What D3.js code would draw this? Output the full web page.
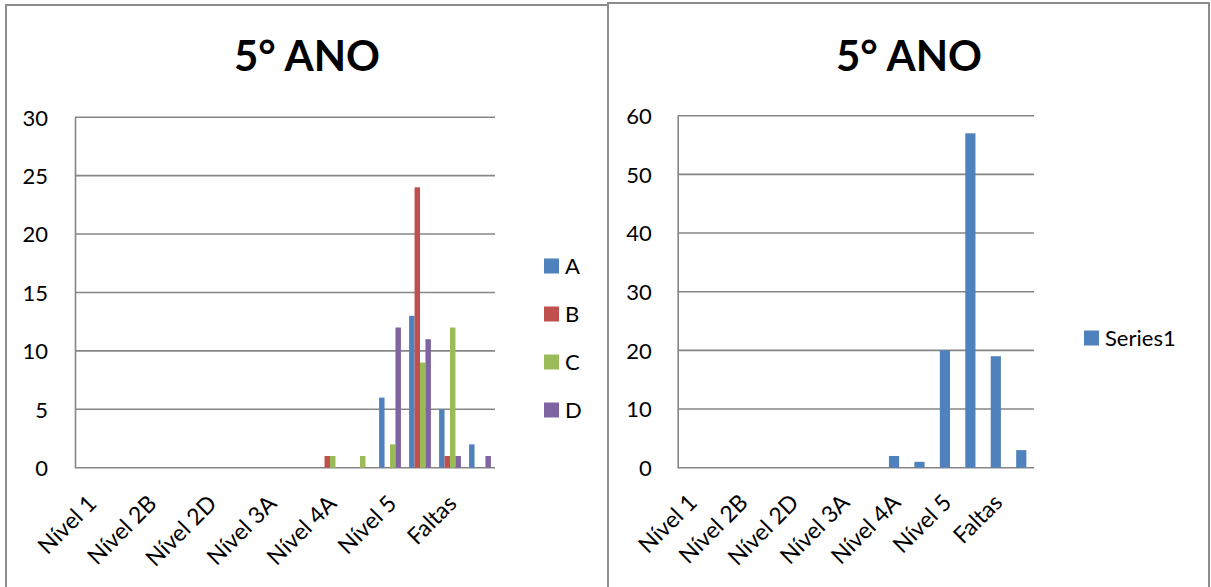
<!DOCTYPE html>
<html><head><meta charset="utf-8">
<script src="https://cdn.jsdelivr.net/npm/d3@7"></script>
<style>
html,body{margin:0;padding:0;background:#fff;}
text{font-family:Lato,"Open Sans",sans-serif;fill:#000;}
</style></head>
<body><svg id="c" width="1211" height="587"></svg>
<script>
// ---- data ----
const categories = ["Nível 1","Nível 2A","Nível 2B","Nível 2C","Nível 2D","Nível 3","Nível 3A","Nível 3B","Nível 4A","Nível 4B","Nível 5","Nível 5B","Faltas","Transferidos"];
const seriesNames = ["A","B","C","D"];
const valuesA = [0,0,0,0,0,0,0,0,0,0,6,13,5,2];
const valuesB = [0,0,0,0,0,0,0,0,1,0,0,24,1,0];
const valuesC = [0,0,0,0,0,0,0,0,1,1,2,9,12,0];
const valuesD = [0,0,0,0,0,0,0,0,0,0,12,11,1,1];
const totalName = "Series1";
const totals = [0,0,0,0,0,0,0,0,2,1,20,57,19,3];
const leftTicks = [0,5,10,15,20,25,30];
const rightTicks = [0,10,20,30,40,50,60];
const titleText = "5° ANO";
const colors = ["#4F81BD","#C0504D","#9BBB59","#8064A2"];

const svg = d3.select("#c");
const gridColor = "#868686";

// chart frames
svg.append("rect").attr("x",6).attr("y",5).attr("width",602).attr("height",600)
  .attr("fill","#fff").attr("stroke","#8c8c8c").attr("stroke-width",2);
svg.append("rect").attr("x",608).attr("y",3).attr("width",601).attr("height",600)
  .attr("fill","#fff").attr("stroke","#8c8c8c").attr("stroke-width",2);

function drawChart(opt){
  const g = svg.append("g");
  const x = d3.scaleBand().domain(categories).range([opt.x0,opt.x1]).paddingInner(0).paddingOuter(0);
  const y = d3.scaleLinear().domain([0,opt.ticks[opt.ticks.length-1]]).range([opt.yb,opt.yt]);
  // title
  g.append("text").attr("x",opt.tx).attr("y",71).attr("text-anchor","middle")
    .style("font-size","42px").style("font-weight","bold").text(titleText);
  // gridlines
  g.selectAll(".grid").data(opt.ticks).join("line")
    .attr("x1",opt.x0).attr("x2",opt.x1).attr("y1",d=>y(d)).attr("y2",d=>y(d))
    .attr("stroke",gridColor).attr("stroke-width",1.6);
  // y axis
  const ya = g.append("g").attr("transform",`translate(${opt.x0},0)`)
    .call(d3.axisLeft(y).tickValues(opt.ticks).tickSize(0).tickPadding(opt.tickPad));
  ya.select(".domain").attr("stroke",gridColor).attr("stroke-width",1.6);
  ya.selectAll("text").style("font-size","22px").style("font-family","Lato,'Open Sans',sans-serif").attr("dy","0.36em");
  // bars
  const n = opt.series.length;
  const bw = x.bandwidth()/(n+1.5);
  const off = (x.bandwidth()-n*bw)/2;
  opt.series.forEach((vals,si)=>{
    g.selectAll(null).data(vals.map((v,i)=>({c:categories[i],v}))).join("rect")
      .filter(d=>d.v>0)
      .attr("x",d=>x(d.c)+off+si*bw).attr("width",bw)
      .attr("y",d=>y(d.v)).attr("height",d=>y(0)-y(d.v))
      .attr("fill",opt.colors[si]);
  });
  // x labels (every other category)
  const xa = g.append("g");
  xa.selectAll("text").data(categories.filter((c,i)=>i%2===0)).join("text")
    .attr("text-anchor","end")
    .attr("transform",d=>`translate(${x(d)+x.bandwidth()/2+opt.lx},${opt.ly}) rotate(-45)`)
    .style("font-size","23px").text(d=>d);
  // legend
  const lg = g.append("g");
  opt.legend.forEach((name,i)=>{
    const cy = opt.legY[i];
    lg.append("rect").attr("x",opt.legX).attr("y",cy-7.5).attr("width",15).attr("height",15).attr("fill",opt.colors[i]);
    lg.append("text").attr("x",opt.legX+21).attr("y",cy).attr("dy","0.36em").style("font-size","22px").text(name);
  });
}

drawChart({x0:75,x1:495,yb:467.7,yt:117.2,ticks:leftTicks,tx:307,tickPad:27,lx:8,ly:505,
  series:[valuesA,valuesB,valuesC,valuesD],colors:colors,legend:seriesNames,
  legX:544,legY:[266,314,362,410]});
drawChart({x0:677.7,x1:1034,yb:467.7,yt:115.7,ticks:rightTicks,tx:909,tickPad:26,lx:8,ly:504,
  series:[totals],colors:[colors[0]],legend:[totalName],
  legX:1084,legY:[338]});
</script></body></html>
